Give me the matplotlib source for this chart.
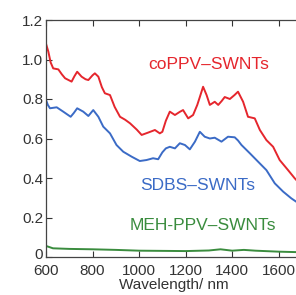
import matplotlib.pyplot as plt
from matplotlib.ticker import FuncFormatter
from matplotlib.transforms import ScaledTranslation

plt.rcParams['font.family'] = ['Liberation Sans', 'DejaVu Sans']

# coPPV-SWNTs
red_nm = [600, 610, 620, 631, 653, 668, 682, 710, 722, 734, 753, 770, 782, 800, 810, 825,
          840, 853, 875, 895, 918, 940, 961, 990, 1011, 1039, 1068, 1089, 1100, 1115,
          1132, 1154, 1175, 1189, 1211, 1232, 1250, 1261, 1275, 1290, 1304, 1325, 1340,
          1355, 1368, 1390, 1410, 1425, 1447, 1468, 1497, 1519, 1547, 1576, 1604, 1640,
          1669, 1700]
red_abs = [1.08, 1.04, 0.985, 0.955, 0.95, 0.925, 0.905, 0.888, 0.915, 0.938, 0.913,
           0.9, 0.896, 0.92, 0.93, 0.913, 0.86, 0.829, 0.82, 0.76, 0.71, 0.695, 0.677,
           0.645, 0.618, 0.63, 0.643, 0.626, 0.634, 0.69, 0.736, 0.719, 0.735, 0.744,
           0.702, 0.719, 0.77, 0.81, 0.862, 0.82, 0.77, 0.786, 0.77, 0.79, 0.81, 0.80,
           0.82, 0.837, 0.786, 0.71, 0.702, 0.643, 0.592, 0.558, 0.491, 0.44, 0.398, 0.36]

# SDBS-SWNTs
blue_nm = [600, 608, 617, 646, 674, 706, 720, 734, 760, 782, 803, 825, 846, 875, 903,
           932, 968, 1003, 1032, 1060, 1082, 1100, 1115, 1132, 1154, 1175, 1197, 1218,
           1240, 1261, 1282, 1304, 1325, 1354, 1382, 1411, 1425, 1440, 1476, 1511, 1547,
           1583, 1619, 1654, 1700]
blue_abs = [0.795, 0.77, 0.753, 0.758, 0.736, 0.71, 0.73, 0.753, 0.736, 0.714, 0.744,
            0.71, 0.66, 0.626, 0.567, 0.533, 0.508, 0.486, 0.491, 0.50, 0.495, 0.53,
            0.55, 0.558, 0.55, 0.576, 0.567, 0.545, 0.584, 0.634, 0.609, 0.60, 0.604,
            0.584, 0.609, 0.606, 0.59, 0.567, 0.525, 0.483, 0.44, 0.373, 0.331, 0.297,
            0.26]

# MEH-PPV-SWNTs
green_nm = [600, 630, 700, 800, 900, 1000, 1100, 1200, 1300, 1350, 1400, 1450, 1500,
            1600, 1700]
green_abs = [0.056, 0.044, 0.041, 0.039, 0.036, 0.032, 0.031, 0.030, 0.033, 0.039, 0.032,
             0.036, 0.032, 0.027, 0.024]

labels = ['coPPV\u2013SWNTs', 'SDBS\u2013SWNTs', 'MEH-PPV\u2013SWNTs']
colors = ['#e5262d', '#3b6bc6', '#3a8c3e']

fig = plt.figure(figsize=(2.96, 2.95), dpi=100)
ax = fig.add_axes([46 / 296, 38 / 295, 256 / 296, 237 / 295])

ax.plot(red_nm, red_abs, color=colors[0], lw=1.4)
ax.plot(blue_nm, blue_abs, color=colors[1], lw=1.4)
ax.plot(green_nm, green_abs, color=colors[2], lw=1.4)

ax.text(1300, 0.975, labels[0], color=colors[0], fontsize=12.5, ha='center', va='center')
ax.text(1252, 0.36, labels[1], color=colors[1], fontsize=12.5, ha='center', va='center')
ax.text(1274, 0.157, labels[2], color=colors[2], fontsize=12.5, ha='center', va='center')

ax.set_xlim(600, 1700)
ax.set_ylim(0, 1.2)
ax.set_xticks([600, 800, 1000, 1200, 1400, 1600])
ax.set_yticks([0, 0.2, 0.4, 0.6, 0.8, 1.0, 1.2])
ax.yaxis.set_major_formatter(FuncFormatter(lambda v, p: '0' if v == 0 else f'{v:.1f}'))
ax.tick_params(direction='in', top=True, length=4, width=0.8, labelsize=11,
               colors='#333333')
ax.tick_params(axis='x', pad=5)
ax.tick_params(axis='y', pad=2)
for s in ax.spines.values():
    s.set_color('#444444')
    s.set_linewidth(0.9)
ax.set_xlabel('Wavelength/ nm', fontsize=11, color='#333333', labelpad=0)

# nudge the "0" label up a little so it clears "600"
zero_lbl = ax.get_yticklabels()[0]
zero_lbl.set_transform(zero_lbl.get_transform() + ScaledTranslation(0, 2.5 / 72, fig.dpi_scale_trans))

fig.savefig('out.png', dpi=100)
